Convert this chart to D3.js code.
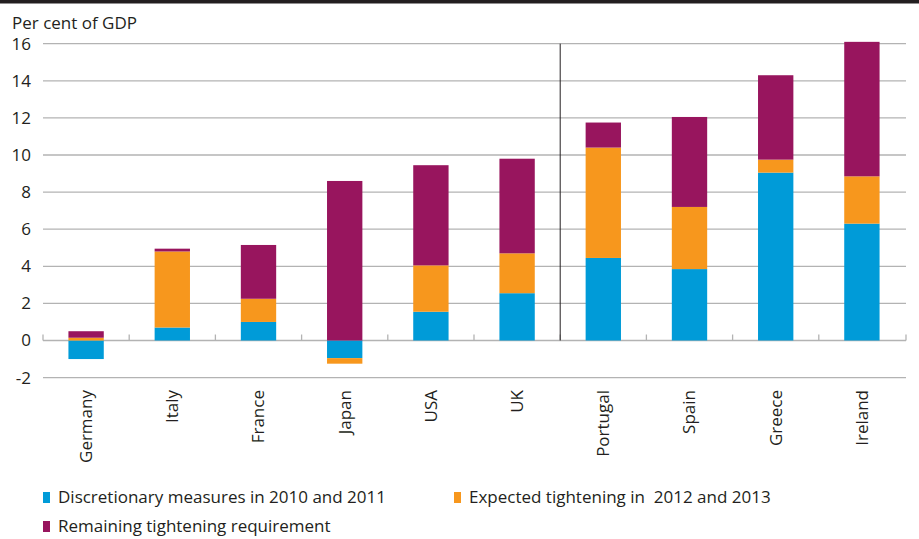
<!DOCTYPE html>
<html>
<head>
<meta charset="utf-8">
<script src="https://cdn.jsdelivr.net/npm/d3@7"></script>
<style>
  body { margin: 0; background: #fff; }
  text { font-family: "Open Sans", "Noto Sans", sans-serif; fill: #231f20; }
</style>
</head>
<body>
<div id="chart"></div>
<script>
// data, per cent of GDP
var countries = ["Germany", "Italy", "France", "Japan", "USA", "UK", "Portugal", "Spain", "Greece", "Ireland"];
var discretionary = [-1.0, 0.7, 1.0, -0.95, 1.55, 2.55, 4.45, 3.85, 9.05, 6.3];
var expected = [0.15, 4.1, 1.25, -0.3, 2.5, 2.15, 5.95, 3.35, 0.7, 2.55];
var remaining = [0.35, 0.15, 2.9, 8.6, 5.4, 5.1, 1.35, 4.85, 4.55, 7.25];
var yTicks = [-2, 0, 2, 4, 6, 8, 10, 12, 14, 16];
var seriesNames = ["Discretionary measures in 2010 and 2011", "Expected tightening in  2012 and 2013", "Remaining tightening requirement"];

var W = 919, H = 539;
var plotLeft = 43, plotRight = 905, plotTop = 43.7, zeroY = 340.5;
var fontSize = "17px";

var svg = d3.select("#chart").append("svg")
	.attr("width", W)
	.attr("height", H);

// black rule at the top
svg.append("rect")
	.attr("x", 0).attr("y", 0)
	.attr("width", W).attr("height", 3.5)
	.style("fill", "#231f20");

var x = d3.scaleBand()
	.domain(countries)
	.range([plotLeft, plotRight])
	.paddingInner(0.59)
	.paddingOuter(0.295);

var y = d3.scaleLinear()
	.domain([0, 16])
	.range([zeroY, plotTop]);

var color = d3.scaleOrdinal()
	.domain(["disc", "exp", "rem"])
	.range(["#009bd8", "#f7971d", "#98155e"]);

// gridlines
svg.selectAll(".grid")
	.data(yTicks)
	.enter().append("line")
	.attr("x1", plotLeft).attr("x2", plotRight + 1)
	.attr("y1", function(d) { return y(d); })
	.attr("y2", function(d) { return y(d); })
	.style("stroke", "#b3b3b3")
	.style("stroke-width", 1.3);

// y labels
svg.selectAll(".ylab")
	.data(yTicks)
	.enter().append("text")
	.attr("x", 31)
	.attr("y", function(d) { return y(d); })
	.attr("dy", "0.35em")
	.attr("text-anchor", "end")
	.style("font-size", fontSize)
	.text(function(d) { return d; });

svg.append("text")
	.attr("x", 12)
	.attr("y", 29)
	.style("font-size", fontSize)
	.text("Per cent of GDP");

// tick marks on the zero line at category boundaries
var bounds = countries.map(function(d) { return x(d) - x.step() * x.paddingOuter(); });
bounds.push(plotRight + 1);
svg.selectAll(".tick")
	.data(bounds)
	.enter().append("line")
	.attr("x1", function(d) { return d; })
	.attr("x2", function(d) { return d; })
	.attr("y1", zeroY - 6).attr("y2", zeroY)
	.style("stroke", "#b3b3b3")
	.style("stroke-width", 1.3);

// bars
var rows = countries.map(function(c, i) {
	return {country: c, disc: discretionary[i], exp: expected[i], rem: remaining[i]};
});
var stack = d3.stack()
	.keys(["disc", "exp", "rem"])
	.offset(d3.stackOffsetDiverging);

var layers = svg.selectAll(".layer")
	.data(stack(rows))
	.enter().append("g")
	.style("fill", function(d) { return color(d.key); });

layers.selectAll("rect")
	.data(function(d) { return d; })
	.enter().append("rect")
	.attr("x", function(d) { return x(d.data.country); })
	.attr("width", x.bandwidth())
	.attr("y", function(d) { return y(Math.max(d[0], d[1])); })
	.attr("height", function(d) { return Math.abs(y(d[0]) - y(d[1])); });

// separator between the groups
var sepX = (x("UK") + x.bandwidth() + x("Portugal")) / 2;
svg.append("line")
	.attr("x1", sepX).attr("x2", sepX)
	.attr("y1", y(16)).attr("y2", zeroY)
	.style("stroke", "#231f20")
	.style("stroke-width", 1);

// category labels
svg.selectAll(".xlab")
	.data(countries)
	.enter().append("text")
	.attr("transform", function(d) {
		return "translate(" + (x(d) + x.bandwidth() / 2) + ",390) rotate(-90)";
	})
	.attr("dy", "0.35em")
	.attr("text-anchor", "end")
	.style("font-size", fontSize)
	.text(function(d) { return d; });

// legend
var legendPos = [[43, 492], [454, 492], [43, 521]];
var legend = svg.selectAll(".legend")
	.data(seriesNames)
	.enter().append("g")
	.attr("transform", function(d, i) { return "translate(" + legendPos[i][0] + "," + legendPos[i][1] + ")"; });

legend.append("rect")
	.attr("width", 7)
	.attr("height", 11)
	.style("fill", function(d, i) { return color.range()[i]; });

legend.append("text")
	.attr("x", 15)
	.attr("y", 11)
	.style("font-size", fontSize)
	.style("white-space", "pre")
	.attr("xml:space", "preserve")
	.text(function(d) { return d; });
</script>
</body>
</html>
